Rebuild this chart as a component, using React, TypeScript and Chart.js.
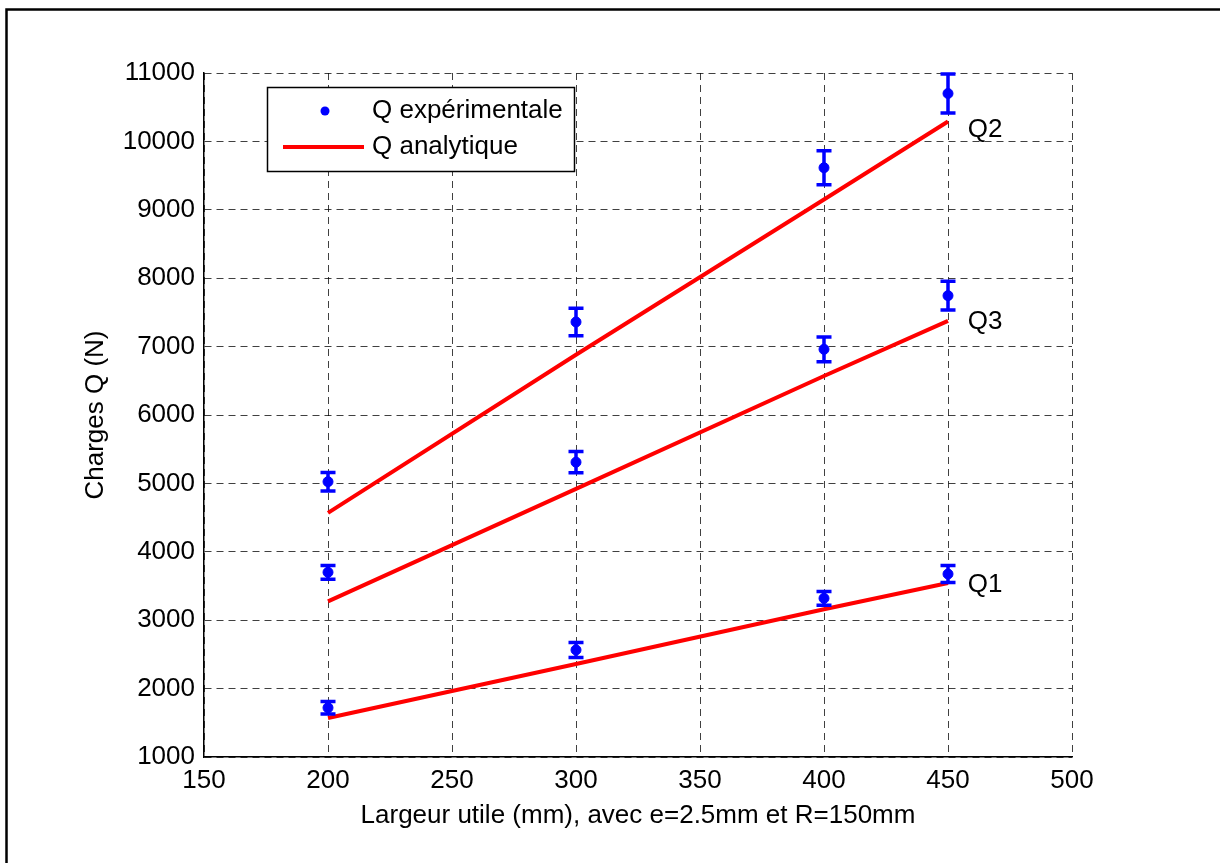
import { useEffect, useRef } from 'react';
import { Chart, registerables } from 'chart.js';

Chart.register(...registerables);

// Largeur utile (mm)
const widthsMm = [200, 300, 400, 450];

// Experimental loads (N) and their error half-widths
const q1Exp = [1720, 2565, 3320, 3675];
const q1Err = [90, 110, 100, 125];
const q2Exp = [5025, 7360, 9615, 10700];
const q2Err = [135, 200, 250, 285];
const q3Exp = [3700, 5310, 6960, 7745];
const q3Err = [100, 155, 180, 210];

// Analytic loads (N)
const q1Ana = [1570, 2360, 3160, 3545];
const q2Ana = [4570, 6880, 9150, 10290];
const q3Ana = [3275, 4920, 6570, 7375];

// Axis ranges / ticks
const xMin = 150;
const xMax = 500;
const xStep = 50;
const yMin = 1000;
const yMax = 11000;
const yStep = 1000;

// Curve labels (anchored in data coordinates)
const curveNames = ['Q1', 'Q2', 'Q3'];
const curveLabelX = [458, 458, 458];
const curveLabelY = [3515, 10170, 7360];

const legendLabels = ['Q expérimentale', 'Q analytique'];

const FONT = "'Liberation Sans', Arial, Helvetica, sans-serif";
const FS = 26;
const BLUE = '#0000ff';
const RED = '#ff0000';

const toXY = (xs: number[], ys: number[]) => xs.map((x, i) => ({ x, y: ys[i] }));

export default function App() {
  const ref = useRef<HTMLCanvasElement | null>(null);

  useEffect(() => {
    if (!ref.current) return;

    const expSets = [
      { vals: q1Exp, err: q1Err },
      { vals: q2Exp, err: q2Err },
      { vals: q3Exp, err: q3Err },
    ];

    const overlay = {
      id: 'overlay',
      afterDatasetsDraw(chart: any) {
        const ctx = chart.ctx;
        const xs = chart.scales.x;
        const ys = chart.scales.y;
        ctx.save();
        // error bars
        ctx.strokeStyle = BLUE;
        ctx.lineWidth = 3.5;
        expSets.forEach((s) => {
          widthsMm.forEach((w, i) => {
            const px = xs.getPixelForValue(w);
            const top = ys.getPixelForValue(s.vals[i] + s.err[i]);
            const bot = ys.getPixelForValue(s.vals[i] - s.err[i]);
            ctx.beginPath();
            ctx.moveTo(px, top);
            ctx.lineTo(px, bot);
            ctx.moveTo(px - 7.5, top);
            ctx.lineTo(px + 7.5, top);
            ctx.moveTo(px - 7.5, bot);
            ctx.lineTo(px + 7.5, bot);
            ctx.stroke();
          });
        });
        // curve labels
        ctx.fillStyle = '#000';
        ctx.font = `${FS}px ${FONT}`;
        ctx.textAlign = 'left';
        ctx.textBaseline = 'middle';
        curveNames.forEach((n, i) => {
          ctx.fillText(n, xs.getPixelForValue(curveLabelX[i]), ys.getPixelForValue(curveLabelY[i]));
        });
        ctx.restore();
      },
      afterDraw(chart: any) {
        const ctx = chart.ctx;
        const ca = chart.chartArea;
        ctx.save();
        // legend box
        const lx = ca.left + 63;
        const ly = ca.top + 14;
        const lw = 307;
        const lh = 84;
        ctx.fillStyle = '#fff';
        ctx.fillRect(lx, ly, lw, lh);
        ctx.strokeStyle = '#000';
        ctx.lineWidth = 1.5;
        ctx.strokeRect(lx + 0.5, ly + 0.5, lw, lh);
        // marker entry
        ctx.fillStyle = BLUE;
        ctx.beginPath();
        ctx.arc(lx + 58, ly + 24, 4.5, 0, Math.PI * 2);
        ctx.fill();
        // line entry
        ctx.strokeStyle = RED;
        ctx.lineWidth = 4;
        ctx.beginPath();
        ctx.moveTo(lx + 16, ly + 60);
        ctx.lineTo(lx + 97, ly + 60);
        ctx.stroke();
        ctx.fillStyle = '#000';
        ctx.font = `${FS}px ${FONT}`;
        ctx.textAlign = 'left';
        ctx.textBaseline = 'middle';
        ctx.fillText(legendLabels[0], lx + 105, ly + 24);
        ctx.fillText(legendLabels[1], lx + 105, ly + 60);
        // outer frame (top and left visible)
        ctx.strokeStyle = '#000';
        ctx.lineWidth = 2.5;
        ctx.beginPath();
        ctx.moveTo(6.5, 2000);
        ctx.lineTo(6.5, 9.5);
        ctx.lineTo(2000, 9.5);
        ctx.stroke();
        ctx.restore();
      },
    };

    const chart = new Chart(ref.current, {
      type: 'scatter',
      data: {
        datasets: [
          ...expSets.map((s, k) => ({
            label: `exp${k + 1}`,
            data: toXY(widthsMm, s.vals),
            backgroundColor: BLUE,
            borderColor: BLUE,
            pointRadius: 5,
            pointStyle: 'circle',
            showLine: false,
          })),
          ...[q1Ana, q2Ana, q3Ana].map((a, k) => ({
            label: `ana${k + 1}`,
            data: toXY(widthsMm, a),
            borderColor: RED,
            backgroundColor: RED,
            borderWidth: 4,
            pointRadius: 0,
            showLine: true,
            tension: 0,
          })),
        ],
      },
      options: {
        responsive: false,
        animation: false,
        devicePixelRatio: 1,
        layout: { padding: { left: 0, right: 148, top: 73, bottom: 0 } },
        plugins: { legend: { display: false }, tooltip: { enabled: false } },
        scales: {
          x: {
            type: 'linear',
            min: xMin,
            max: xMax,
            ticks: {
              stepSize: xStep,
              color: '#000',
              font: { family: FONT, size: FS },
              padding: 8,
              maxRotation: 0,
              callback: (v: any) => String(v),
            },
            grid: { color: 'rgba(0,0,0,0.75)', lineWidth: 1, drawTicks: false },
            border: { display: true, color: '#000', width: 1.5, dash: [7, 5] },
            title: {
              display: true,
              text: 'Largeur utile (mm), avec e=2.5mm et R=150mm',
              color: '#000',
              font: { family: FONT, size: FS },
              padding: { top: 0, bottom: 32 },
            },
            afterFit: (s: any) => {
              s.height = 106;
            },
          },
          y: {
            type: 'linear',
            min: yMin,
            max: yMax,
            ticks: {
              stepSize: yStep,
              color: '#000',
              font: { family: FONT, size: FS },
              padding: 9,
              callback: (v: any) => String(v),
            },
            grid: { color: 'rgba(0,0,0,0.75)', lineWidth: 1, drawTicks: false },
            border: { display: true, color: '#000', width: 1.5, dash: [7, 5] },
            title: {
              display: true,
              text: 'Charges Q (N)',
              color: '#000',
              font: { family: FONT, size: FS },
              padding: { top: 80, bottom: 0 },
            },
            afterFit: (s: any) => {
              s.width = 204;
            },
          },
        },
      },
      plugins: [overlay],
    });

    return () => chart.destroy();
  }, []);

  return (
    <div style={{ position: 'fixed', left: 0, top: 0, width: 1220, height: 863, background: '#fff' }}>
      <canvas ref={ref} width={1220} height={863} style={{ display: 'block' }} />
    </div>
  );
}
